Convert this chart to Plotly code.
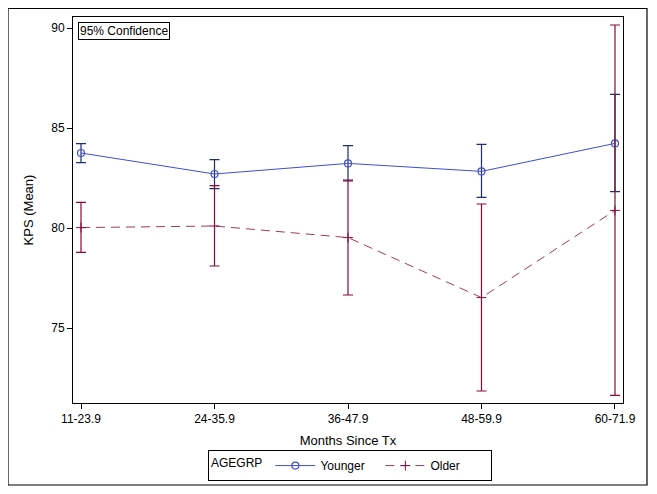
import plotly.graph_objects as go

categories = ["11-23.9", "24-35.9", "36-47.9", "48-59.9", "60-71.9"]

younger_mean = [83.75, 82.70, 83.23, 82.83, 84.23]
younger_upper = [84.22, 83.42, 84.12, 84.18, 86.68]
younger_lower = [83.27, 81.97, 82.35, 81.53, 81.82]

older_mean = [80.02, 80.10, 79.52, 76.52, 80.88]
older_upper = [81.28, 82.12, 82.39, 81.20, 90.15]
older_lower = [78.78, 78.10, 76.65, 71.85, 71.63]

y_ticks = [75, 80, 85, 90]

x_idx = list(range(len(categories)))

fig = go.Figure()

fig.add_trace(go.Scatter(
    x=x_idx, y=younger_mean, name="Younger", mode="lines+markers",
    line=dict(color="#3F4FCF", width=1),
    marker=dict(symbol="circle-open", size=7, color="#3F4FCF", line=dict(width=1.2)),
    error_y=dict(type="data", symmetric=False,
                 array=[u - m for u, m in zip(younger_upper, younger_mean)],
                 arrayminus=[m - l for m, l in zip(younger_mean, younger_lower)],
                 color="#1E2C70", thickness=1.2, width=5),
))

fig.add_trace(go.Scatter(
    x=x_idx, y=older_mean, name="Older", mode="lines+markers",
    line=dict(color="#A23A5E", width=1, dash="9px,6px"),
    marker=dict(symbol="cross-thin", size=7, color="#8B0A3A", line=dict(width=1, color="#8B0A3A")),
    error_y=dict(type="data", symmetric=False,
                 array=[u - m for u, m in zip(older_upper, older_mean)],
                 arrayminus=[m - l for m, l in zip(older_mean, older_lower)],
                 color="#8B0A3A", thickness=1.2, width=5),
))

fig.update_layout(
    width=649, height=486,
    margin=dict(l=65, r=34, t=9, b=91, autoexpand=False),
    paper_bgcolor="white", plot_bgcolor="white",
    font=dict(family="Liberation Sans, Arial, sans-serif", size=12, color="black"),
    showlegend=True,
    legend=dict(
        orientation="h", x=0.2455, xanchor="left", y=-0.122, yanchor="top",
        bordercolor="black", borderwidth=1, bgcolor="white",
        title=dict(text="AGEGRP", font=dict(size=12)),
        font=dict(size=12), itemwidth=40, entrywidth=55, tracegroupgap=0,
    ),
    xaxis=dict(
        range=[-0.06, 4.06], tickmode="array", tickvals=x_idx, ticktext=categories,
        showgrid=False, zeroline=False, showline=True, linecolor="black", linewidth=1,
        mirror=True, ticks="outside", ticklen=5, tickcolor="black", automargin=False,
        title=dict(text="Months Since Tx", font=dict(size=13), standoff=10),
        tickfont=dict(size=12),
    ),
    yaxis=dict(
        range=[71.25, 90.55], tickmode="array", tickvals=y_ticks,
        showgrid=False, zeroline=False, showline=True, linecolor="black", linewidth=1,
        mirror=True, ticks="outside", ticklen=5, tickcolor="black", automargin=False,
        title=dict(text="KPS (Mean)", font=dict(size=13), standoff=14),
        tickfont=dict(size=12),
    ),
    shapes=[dict(type="rect", xref="paper", yref="paper",
                 x0=-0.1182, x1=1.0436, y0=-0.2124, y1=1.022,
                 line=dict(color="black", width=1.2), fillcolor="rgba(0,0,0,0)", layer="below")],
    annotations=[dict(text="95% Confidence", xref="paper", yref="paper",
                      x=0.009, y=0.986, xanchor="left", yanchor="top", showarrow=False,
                      bordercolor="black", borderwidth=1, borderpad=1, bgcolor="white",
                      font=dict(size=12))],
)

fig.write_html("out.html")
